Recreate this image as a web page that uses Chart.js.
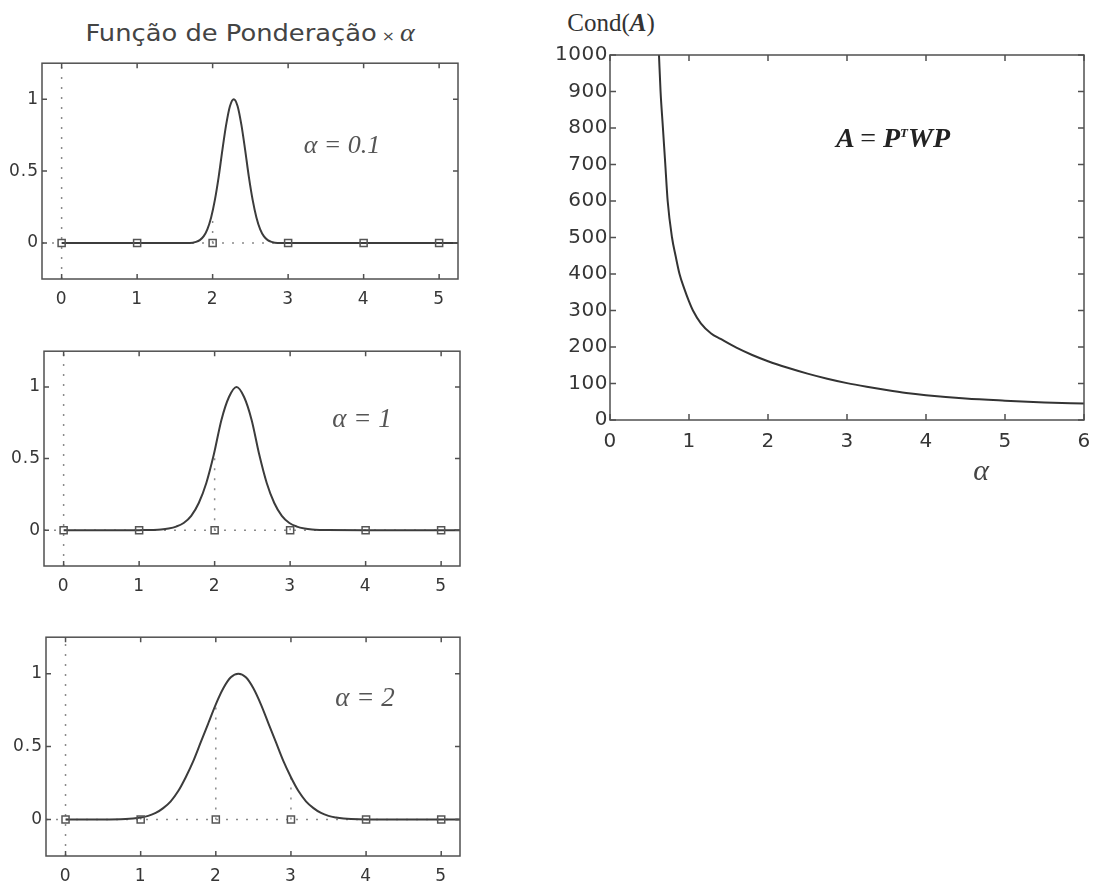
<!DOCTYPE html>
<html>
<head>
<meta charset="utf-8">
<script src="https://cdn.jsdelivr.net/npm/chart.js@4.4.1/dist/chart.umd.min.js"></script>
<style>
  body { margin: 0; background: #fff; width: 1101px; height: 887px; position: relative; overflow: hidden; }
  .plot { position: absolute; }
  .c { position: absolute; transform: translate(-50%, -50%); white-space: nowrap; line-height: 1; }
  .serif { font-family: "Liberation Serif", "DejaVu Serif", serif; }
</style>
</head>
<body>

<div class="c" style="left:250px; top:32px; color:#444; transform: translate(-50%, -50%) scaleX(1.12);">
  <span style="font-family:'DejaVu Sans'; font-size:23px;">Função de Ponderação</span><span style="font-family:'DejaVu Sans'; font-size:14px;"> × </span><span class="serif" style="font-style:italic; font-size:25px;">α</span>
</div>

<div class="plot" style="left:0; top:50px;"><canvas id="w01" width="470" height="270"></canvas></div>
<div class="plot" style="left:0; top:338px;"><canvas id="w1" width="472" height="270"></canvas></div>
<div class="plot" style="left:0; top:624px;"><canvas id="w2" width="472" height="263"></canvas></div>
<div class="plot" style="left:520px; top:40px;"><canvas id="cond" width="581" height="420"></canvas></div>

<div class="c serif" style="left:342px; top:145px; font-size:26px; font-style:italic; color:#555;">α = 0.1</div>
<div class="c serif" style="left:362px; top:418px; font-size:27px; font-style:italic; color:#555;">α = 1</div>
<div class="c serif" style="left:365px; top:697px; font-size:27px; font-style:italic; color:#555;">α = 2</div>

<div class="c serif" style="left:611px; top:22px; font-size:25px; color:#333;">Cond(<b><i>A</i></b>)</div>
<div class="c serif" style="left:893px; top:138px; font-size:28px; font-weight:bold; font-style:italic; color:#222;">A <span style="font-weight:normal; font-style:normal;">=</span> P<sup style="font-size:13px;">T</sup>WP</div>
<div class="c serif" style="left:981px; top:470px; font-size:30px; font-style:italic; color:#444;">α</div>

<script>
// Nodes and axis ticks shared by the three weighting plots
const nodes = [0, 1, 2, 3, 4, 5];
const weightTicksX = [0, 1, 2, 3, 4, 5];
const weightTicksY = [0, 0.5, 1];
const weightRangeX = [-0.26, 5.25];
const weightRangeY = [-0.25, 1.25];

// Weighting function, alpha = 0.1
const curveX01 = [0, 1, 1.7, 1.78, 1.83, 1.88, 1.93, 1.98, 2.03, 2.08, 2.13, 2.18, 2.23, 2.28, 2.33, 2.38, 2.43, 2.48, 2.53, 2.58, 2.63, 2.68, 2.73, 2.78, 2.86, 3, 4, 5, 5.25];
const curveY01 = [0, 0, 0, 0.008, 0.02, 0.046, 0.095, 0.178, 0.30, 0.46, 0.65, 0.825, 0.953, 1, 0.953, 0.825, 0.65, 0.46, 0.30, 0.178, 0.095, 0.046, 0.02, 0.008, 0, 0, 0, 0, 0];
const nodeW01 = [0, 0, 0.2, 0, 0, 0];

// Weighting function, alpha = 1
const curveX1 = [0, 1, 1.09, 1.19, 1.29, 1.39, 1.49, 1.59, 1.69, 1.79, 1.89, 1.99, 2.09, 2.19, 2.29, 2.39, 2.49, 2.59, 2.69, 2.79, 2.89, 2.99, 3.09, 3.19, 3.29, 3.39, 3.49, 4, 5, 5.25];
const curveY1 = [0, 0, 0.001, 0.002, 0.005, 0.012, 0.025, 0.05, 0.10, 0.19, 0.33, 0.53, 0.77, 0.93, 1, 0.93, 0.77, 0.53, 0.33, 0.19, 0.10, 0.05, 0.025, 0.012, 0.005, 0.002, 0.001, 0, 0, 0];
const nodeW1 = [0, 0, 0.54, 0.05, 0, 0];

// Weighting function, alpha = 2
const curveX2 = [0, 0.5, 0.8, 0.9, 1.0, 1.1, 1.2, 1.3, 1.4, 1.5, 1.6, 1.7, 1.8, 1.9, 2.0, 2.1, 2.2, 2.3, 2.4, 2.5, 2.6, 2.7, 2.8, 2.9, 3.0, 3.1, 3.2, 3.3, 3.4, 3.5, 3.6, 3.7, 3.8, 4.0, 4.5, 5, 5.25];
const curveY2 = [0, 0, 0.003, 0.007, 0.014, 0.025, 0.045, 0.078, 0.125, 0.195, 0.29, 0.40, 0.53, 0.66, 0.79, 0.90, 0.975, 1, 0.975, 0.90, 0.79, 0.66, 0.53, 0.40, 0.29, 0.195, 0.125, 0.078, 0.045, 0.025, 0.014, 0.007, 0.003, 0, 0, 0, 0];
const nodeW2 = [0, 0.014, 0.79, 0.29, 0, 0];

// Condition number of A versus alpha
const condAlpha = [0.62, 0.64, 0.67, 0.70, 0.73, 0.785, 0.83, 0.88, 0.94, 1.0, 1.05, 1.15, 1.28, 1.4, 1.6, 1.8, 2.0, 2.25, 2.5, 2.75, 3.0, 3.25, 3.5, 3.75, 4.0, 4.5, 5.0, 5.5, 6.0];
const condValue = [1000, 900, 800, 700, 600, 500, 450, 400, 360, 325, 300, 265, 237, 222, 198, 178, 161, 143, 127, 113, 101, 91, 82, 74, 68, 59, 53, 48, 45];
const condTicksX = [0, 1, 2, 3, 4, 5, 6];
const condTicksY = [0, 100, 200, 300, 400, 500, 600, 700, 800, 900, 1000];

const textColor = '#363636';
const dotted = [2, 8];
const noGrid = { display: false, drawTicks: false, tickLength: 0 };

// Box around the plot area with inward ticks on all four sides
const framePlugin = {
  id: 'frame',
  afterDraw(chart, args, opts) {
    const { ctx, chartArea: a, scales: { x, y } } = chart;
    ctx.save();
    ctx.strokeStyle = opts.color;
    ctx.lineWidth = opts.width;
    ctx.strokeRect(a.left, a.top, a.right - a.left, a.bottom - a.top);
    const len = opts.tick;
    ctx.beginPath();
    x.ticks.forEach(t => {
      const px = x.getPixelForValue(t.value);
      ctx.moveTo(px, a.bottom); ctx.lineTo(px, a.bottom - len);
      ctx.moveTo(px, a.top); ctx.lineTo(px, a.top + len);
    });
    y.ticks.forEach(t => {
      const py = y.getPixelForValue(t.value);
      ctx.moveTo(a.left, py); ctx.lineTo(a.left + len, py);
      ctx.moveTo(a.right, py); ctx.lineTo(a.right - len, py);
    });
    ctx.stroke();
    ctx.restore();
  }
};

// Slightly wider spacing for the tick numbers
const spacingPlugin = {
  id: 'spacing',
  beforeDraw(chart, args, opts) { chart.ctx.letterSpacing = opts.value; },
  afterDraw(chart) { chart.ctx.letterSpacing = '0px'; }
};

function toPoints(xs, ys) {
  return xs.map((x, i) => ({ x: x, y: ys[i] }));
}

// Dotted stems from each node up to its weight
function stemPoints(w) {
  const pts = [];
  nodes.forEach((n, i) => {
    if (w[i] > 0) pts.push({ x: n, y: 0 }, { x: n, y: w[i] }, { x: n, y: null });
  });
  return pts;
}

function fmt(v) {
  return String(v);
}

function makeWeightChart(id, curveX, curveY, nodeW, size) {
  const ctx = document.getElementById(id).getContext('2d');
  return new Chart(ctx, {
    type: 'line',
    data: {
      datasets: [
        {
          // weighting curve
          data: toPoints(curveX, curveY),
          borderColor: '#3c3c3c',
          borderWidth: 2,
          pointRadius: 0,
          cubicInterpolationMode: 'monotone',
          order: 1
        },
        {
          // node markers
          data: nodes.map(n => ({ x: n, y: 0 })),
          showLine: false,
          pointStyle: 'rect',
          pointRadius: 5,
          pointBorderWidth: 1.5,
          pointBorderColor: '#555',
          pointBackgroundColor: 'rgba(0,0,0,0)',
          order: 0
        },
        {
          // x = 0 line
          data: [{ x: 0, y: weightRangeY[0] }, { x: 0, y: weightRangeY[1] }],
          borderColor: '#8a8a8a',
          borderWidth: 1.5,
          borderDash: dotted,
          pointRadius: 0,
          order: 3
        },
        {
          // y = 0 line
          data: [{ x: weightRangeX[0], y: 0 }, { x: weightRangeX[1], y: 0 }],
          borderColor: '#8a8a8a',
          borderWidth: 1.5,
          borderDash: dotted,
          pointRadius: 0,
          order: 3
        },
        {
          // weights at the nodes
          data: stemPoints(nodeW),
          borderColor: '#8a8a8a',
          borderWidth: 1.5,
          borderDash: dotted,
          pointRadius: 0,
          spanGaps: false,
          order: 2
        }
      ]
    },
    options: {
      responsive: false,
      animation: false,
      devicePixelRatio: 1,
      layout: { padding: { top: 12, right: size.right, left: 0, bottom: 0 } },
      plugins: {
        legend: { display: false },
        tooltip: { enabled: false },
        frame: { color: '#505050', width: 1.5, tick: 5 },
        spacing: { value: '1px' }
      },
      scales: {
        x: {
          type: 'linear',
          min: weightRangeX[0],
          max: weightRangeX[1],
          grid: noGrid,
          border: { display: false },
          ticks: { color: textColor, font: { family: 'DejaVu Sans', size: 17 }, padding: 10, callback: fmt },
          afterBuildTicks: s => { s.ticks = weightTicksX.map(v => ({ value: v })); },
          afterFit: s => { s.height = size.xh; }
        },
        y: {
          type: 'linear',
          min: weightRangeY[0],
          max: weightRangeY[1],
          grid: noGrid,
          border: { display: false },
          ticks: { color: textColor, font: { family: 'DejaVu Sans', size: 17 }, padding: 3, callback: fmt },
          afterBuildTicks: s => { s.ticks = weightTicksY.map(v => ({ value: v })); },
          afterFit: s => { s.width = size.yw; }
        }
      }
    },
    plugins: [framePlugin, spacingPlugin]
  });
}

makeWeightChart('w01', curveX01, curveY01, nodeW01, { yw: 42, xh: 41, right: 12 });
makeWeightChart('w1', curveX1, curveY1, nodeW1, { yw: 44, xh: 42, right: 12 });
makeWeightChart('w2', curveX2, curveY2, nodeW2, { yw: 46, xh: 31, right: 12 });

// Condition number chart
const condCtx = document.getElementById('cond').getContext('2d');
const condChart = new Chart(condCtx, {
  type: 'line',
  data: {
    datasets: [{
      data: toPoints(condAlpha, condValue),
      borderColor: '#333',
      borderWidth: 2,
      pointRadius: 0,
      cubicInterpolationMode: 'monotone'
    }]
  },
  options: {
    responsive: false,
    animation: false,
    devicePixelRatio: 1,
    layout: { padding: { top: 15, right: 17, left: 0, bottom: 0 } },
    plugins: {
      legend: { display: false },
      tooltip: { enabled: false },
      frame: { color: '#505050', width: 1.5, tick: 6 },
      spacing: { value: '0.5px' }
    },
    scales: {
      x: {
        type: 'linear',
        min: 0,
        max: 6,
        grid: noGrid,
        border: { display: false },
        ticks: { color: textColor, font: { family: 'DejaVu Sans', size: 20 }, padding: 10, callback: fmt },
        afterBuildTicks: s => { s.ticks = condTicksX.map(v => ({ value: v })); },
        afterFit: s => { s.height = 40; }
      },
      y: {
        type: 'linear',
        min: 0,
        max: 1000,
        grid: noGrid,
        border: { display: false },
        ticks: { color: textColor, font: { family: 'DejaVu Sans', size: 20 }, padding: 2, callback: fmt },
        afterBuildTicks: s => { s.ticks = condTicksY.map(v => ({ value: v })); },
        afterFit: s => { s.width = 90; }
      }
    }
  },
  plugins: [framePlugin, spacingPlugin]
});
</script>
</body>
</html>
